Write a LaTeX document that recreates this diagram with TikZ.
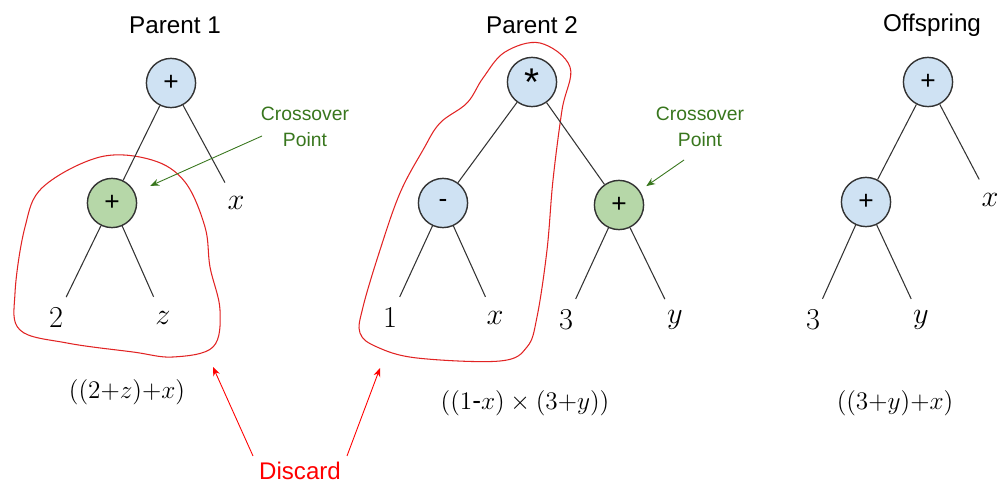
\documentclass[tikz,border=0pt]{standalone}
\usepackage[no-math]{fontspec}
\setmainfont{Liberation Sans}
\usetikzlibrary{arrows.meta}
\definecolor{opblue}{RGB}{207,226,243}
\definecolor{xgreen}{RGB}{182,215,168}
\definecolor{xtext}{RGB}{56,118,29}
\definecolor{cutred}{RGB}{225,35,35}

\begin{document}
\begin{tikzpicture}[x=0.02cm,y=-0.02cm,
  op/.style={circle,draw=black!80,fill=opblue,line width=.8pt,minimum size=28pt,inner sep=0pt,font=\fontsize{15}{16}\selectfont},
  xop/.style={op,fill=xgreen},
  leaf/.style={circle,minimum size=26pt,inner sep=0pt,font=\fontsize{17}{20}\selectfont},
  title/.style={font=\fontsize{13.8}{15}\selectfont},
  expr/.style={font=\fontsize{15}{17}\selectfont},
  cross/.style={xtext,align=center,font=\fontsize{11}{15}\selectfont},
  edge/.style={line width=.6pt,black!80},
  crossarrow/.style={-{Stealth[length=5pt,width=4pt]},xtext,line width=.5pt},
  cutarrow/.style={-{Stealth[length=5pt,width=4pt]},red,line width=.5pt},
  blob/.style={cutred,line width=.6pt}]
\useasboundingbox (0,0) rectangle (1000,486);
\draw[blob] plot[smooth cycle,tension=.6] coordinates {(152,160)(100,157)(43,187)(25,227)(15,293)(20,330)(67,343)(133,352)(173,357)(213,347)(220,310)(210,267)(205,227)(185,182)};
\draw[blob] plot[smooth cycle,tension=.6] coordinates {(540,43)(570,67)(562,110)(553,180)(547,250)(537,317)(527,347)(500,361)(417,358)(377,347)(360,333)(363,307)(380,250)(400,193)(423,150)(440,123)(467,103)(483,78)(505,52)};
\node[title] (t1) at (175,25) {Parent 1};
\node[op] (r1) at (171,83) {+};
\node[xop] (g1) at (112,203) {+};
\node[leaf] (x1) at (236,203) {$x$};
\node[leaf] (two) at (56,318) {$2$};
\node[leaf] (z1) at (163,318) {$z$};
\node[expr] (e1) at (127,392) {$((2{+}z){+}x)$};
\node[title] (t2) at (532,25) {Parent 2};
\node[op] (r2) at (532,82) {\fontsize{22}{22}\selectfont\raisebox{-.3em}{*}};
\node[op] (m2) at (443,203) {-};
\node[xop] (g2) at (619,205) {+};
\node[leaf] (one) at (390,318) {$1$};
\node[leaf] (x2) at (495,318) {$x$};
\node[leaf] (three2) at (566,320) {$3$};
\node[leaf] (y2) at (675,320) {$y$};
\node[expr] (e2) at (525,403) {$((1\mbox{-}x)\times(3{+}y))$};
\node[title] (t3) at (932,25) {Offspring};
\node[op] (r3) at (928,82) {+};
\node[op] (a3) at (866,202) {+};
\node[leaf] (x3) at (990,200) {$x$};
\node[leaf] (three3) at (813,320) {$3$};
\node[leaf] (y3) at (921,320) {$y$};
\node[expr] (e3) at (895,403) {$((3{+}y){+}x)$};
\foreach \a/\b in {r1/g1,r1/x1,g1/two,g1/z1,r2/m2,r2/g2,m2/one,m2/x2,g2/three2,g2/y2,r3/a3,r3/x3,a3/three3,a3/y3}
  \draw[edge] (\a) -- (\b);
\node[cross] (c1) at (305,127) {Crossover\\Point};
\node[cross] (c2) at (700,127) {Crossover\\Point};
\coordinate (c1from) at (262,136);
\coordinate (c2from) at (684,160);
\draw[crossarrow,shorten >=9.5pt] (c1from) -- (g1);
\draw[crossarrow,shorten >=4.5pt] (c2from) -- (g2);
\node[red,font=\fontsize{13.7}{15}\selectfont] (d) at (300,471) {Discard};
\coordinate (cut1) at (213,367);
\coordinate (cut2) at (380,368);
\draw[cutarrow] (d.north west) -- (cut1);
\draw[cutarrow] (d.north east) -- (cut2);
\end{tikzpicture}
\end{document}
